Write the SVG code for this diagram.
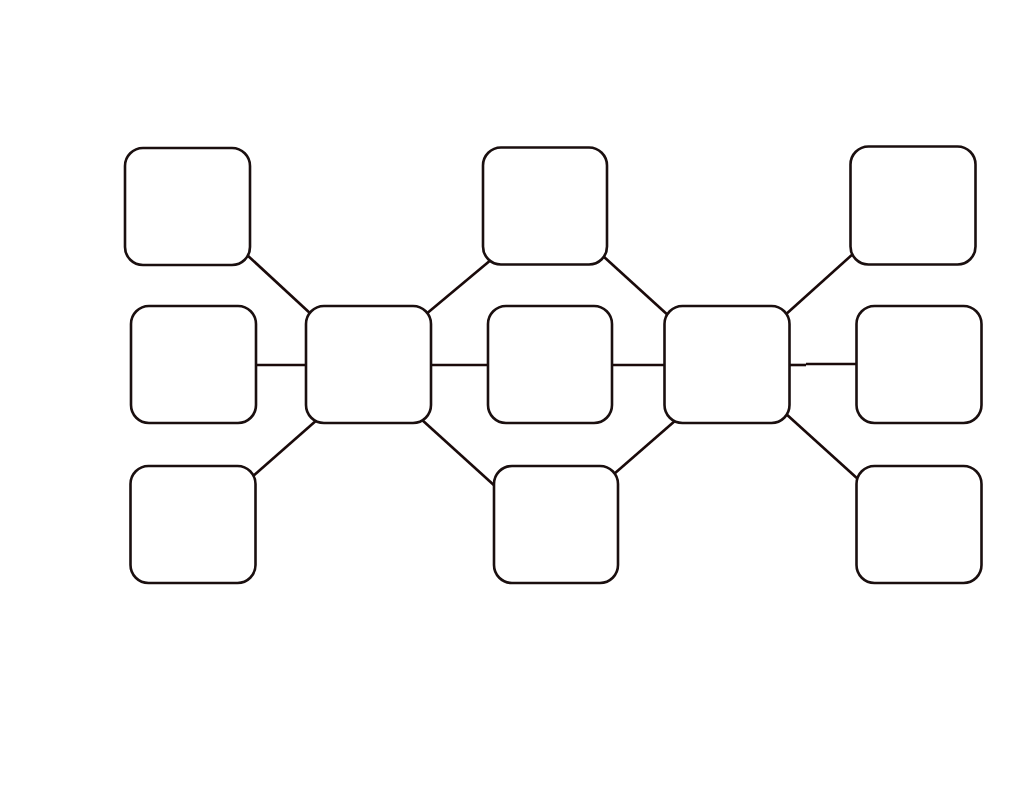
<svg xmlns="http://www.w3.org/2000/svg" width="1035" height="800" viewBox="0 0 1035 800">
<style>
.node{fill:#ffffff;stroke:#1a0f0f;stroke-width:2.6}
.edge{stroke:#1a0a0a;stroke-width:2.6;fill:none}
</style>
<rect width="1035" height="800" fill="#ffffff"/>
<g id="connectors">
<line class="edge" x1="246" y1="254" x2="312" y2="315"/>
<line class="edge" x1="425" y1="315" x2="492" y2="259"/>
<line class="edge" x1="603" y1="256" x2="670" y2="317"/>
<line class="edge" x1="784" y1="316" x2="854" y2="253"/>
<line class="edge" x1="255" y1="365" x2="307" y2="365"/>
<line class="edge" x1="430" y1="365" x2="489" y2="365"/>
<line class="edge" x1="611" y1="365" x2="666" y2="365"/>
<line class="edge" x1="788" y1="365" x2="806" y2="365"/>
<line class="edge" x1="806" y1="364" x2="858" y2="364"/>
<line class="edge" x1="318" y1="419" x2="252" y2="477"/>
<line class="edge" x1="421" y1="419" x2="496" y2="487"/>
<line class="edge" x1="614" y1="474" x2="676" y2="420"/>
<line class="edge" x1="785" y1="413" x2="859" y2="480"/>
</g>
<g id="n1"><rect class="node" x="125" y="148" width="125" height="117" rx="18"/></g>
<g id="n2"><rect class="node" x="131" y="306" width="125" height="117" rx="18"/></g>
<g id="n3"><rect class="node" x="130.5" y="466" width="125" height="117" rx="18"/></g>
<g id="n4"><rect class="node" x="306" y="306" width="125" height="117" rx="18"/></g>
<g id="n5"><rect class="node" x="483" y="147.5" width="124" height="117" rx="18"/></g>
<g id="n6"><rect class="node" x="488" y="306" width="124" height="117" rx="18"/></g>
<g id="n7"><rect class="node" x="494" y="466" width="124" height="117" rx="18"/></g>
<g id="n8"><rect class="node" x="664.5" y="306" width="125" height="117" rx="18"/></g>
<g id="n9"><rect class="node" x="850.5" y="146.5" width="125" height="118" rx="18"/></g>
<g id="n10"><rect class="node" x="856.5" y="306" width="125" height="117" rx="18"/></g>
<g id="n11"><rect class="node" x="856.5" y="466" width="125" height="117" rx="18"/></g>
</svg>
